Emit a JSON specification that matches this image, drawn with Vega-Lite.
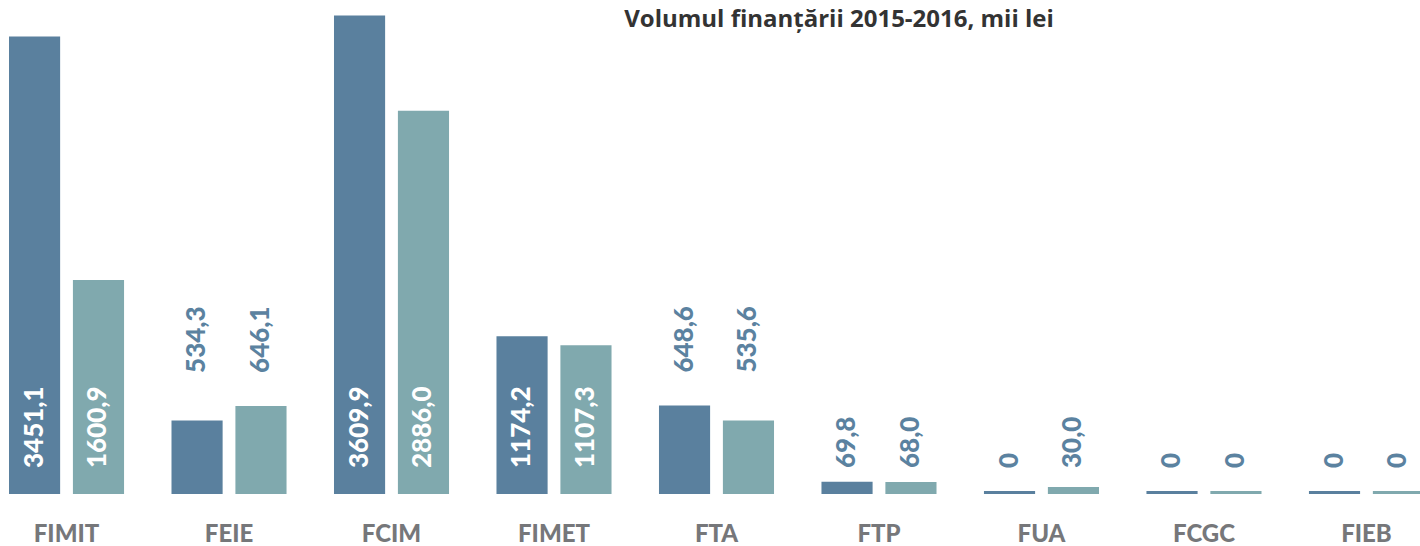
{
  "$schema": "https://vega.github.io/schema/vega-lite/v6.json",
  "width": 1420,
  "height": 494,
  "autosize": {"type": "none"},
  "padding": {"left": 0, "top": 0, "right": 0, "bottom": 52},
  "background": "white",
  "title": {
    "text": "Volumul finanțării 2015-2016, mii lei",
    "font": "Open Sans",
    "fontSize": 24,
    "fontWeight": "bold",
    "color": "#333333",
    "anchor": "middle",
    "offset": 0,
    "baseline": "alphabetic",
    "dx": 129,
    "dy": 51
  },
  "config": {"view": {"stroke": null}},
  "data": {
    "values": [
      {"cat": "FIMIT", "year": "2015", "value": 3451.1, "label": "3451,1"},
      {"cat": "FIMIT", "year": "2016", "value": 1600.9, "label": "1600,9"},
      {"cat": "FEIE", "year": "2015", "value": 534.3, "label": "534,3"},
      {"cat": "FEIE", "year": "2016", "value": 646.1, "label": "646,1"},
      {"cat": "FCIM", "year": "2015", "value": 3609.9, "label": "3609,9"},
      {"cat": "FCIM", "year": "2016", "value": 2886.0, "label": "2886,0"},
      {"cat": "FIMET", "year": "2015", "value": 1174.2, "label": "1174,2"},
      {"cat": "FIMET", "year": "2016", "value": 1107.3, "label": "1107,3"},
      {"cat": "FTA", "year": "2015", "value": 648.6, "label": "648,6"},
      {"cat": "FTA", "year": "2016", "value": 535.6, "label": "535,6"},
      {"cat": "FTP", "year": "2015", "value": 69.8, "label": "69,8"},
      {"cat": "FTP", "year": "2016", "value": 68.0, "label": "68,0"},
      {"cat": "FUA", "year": "2015", "value": 0, "label": "0"},
      {"cat": "FUA", "year": "2016", "value": 30.0, "label": "30,0"},
      {"cat": "FCGC", "year": "2015", "value": 0, "label": "0"},
      {"cat": "FCGC", "year": "2016", "value": 0, "label": "0"},
      {"cat": "FIEB", "year": "2015", "value": 0, "label": "0"},
      {"cat": "FIEB", "year": "2016", "value": 0, "label": "0"}
    ]
  },
  "transform": [
    {"joinaggregate": [{"op": "max", "field": "value", "as": "gmax"}], "groupby": ["cat"]}
  ],
  "encoding": {
    "x": {
      "field": "cat",
      "type": "nominal",
      "sort": null,
      "scale": {"paddingInner": 0.292, "paddingOuter": 0.0554, "range": [0, 1433]},
      "axis": {
        "title": null,
        "domain": false,
        "ticks": false,
        "labelAngle": 0,
        "labelFont": "Lato",
        "labelFontSize": 24,
        "labelFontWeight": 900,
        "labelColor": "#76777a",
        "labelPadding": 28
      }
    },
    "xOffset": {
      "field": "year",
      "type": "nominal",
      "scale": {"paddingInner": 0.2, "paddingOuter": 0}
    }
  },
  "layer": [
    {
      "mark": {"type": "bar", "yOffset": -3},
      "encoding": {
        "y": {
          "field": "value",
          "type": "quantitative",
          "stack": null,
          "scale": {"domain": [0, 3750], "nice": false, "zero": true},
          "axis": null
        },
        "color": {
          "field": "year",
          "type": "nominal",
          "scale": {"domain": ["2015", "2016"], "range": ["#5a809e", "#80a9ae"]},
          "legend": null
        }
      }
    },
    {
      "transform": [{"filter": "datum.value >= 1000 || datum.gmax < 300"}],
      "mark": {
        "type": "text",
        "angle": 270,
        "align": "left",
        "baseline": "middle",
        "font": "Lato",
        "fontSize": 26,
        "fontWeight": 900,
        "yOffset": -26
      },
      "encoding": {
        "y": {"datum": 0, "type": "quantitative"},
        "text": {"field": "label"},
        "color": {
          "condition": {"test": "datum.value >= 1000", "value": "#ffffff"},
          "value": "#5b82a0"
        }
      }
    },
    {
      "transform": [{"filter": "datum.value < 1000 && datum.gmax >= 300"}],
      "mark": {
        "type": "text",
        "angle": 270,
        "align": "left",
        "baseline": "middle",
        "font": "Lato",
        "fontSize": 26,
        "fontWeight": 900,
        "color": "#5b82a0",
        "yOffset": -36
      },
      "encoding": {
        "y": {"field": "gmax", "type": "quantitative"},
        "text": {"field": "label"}
      }
    }
  ]
}
